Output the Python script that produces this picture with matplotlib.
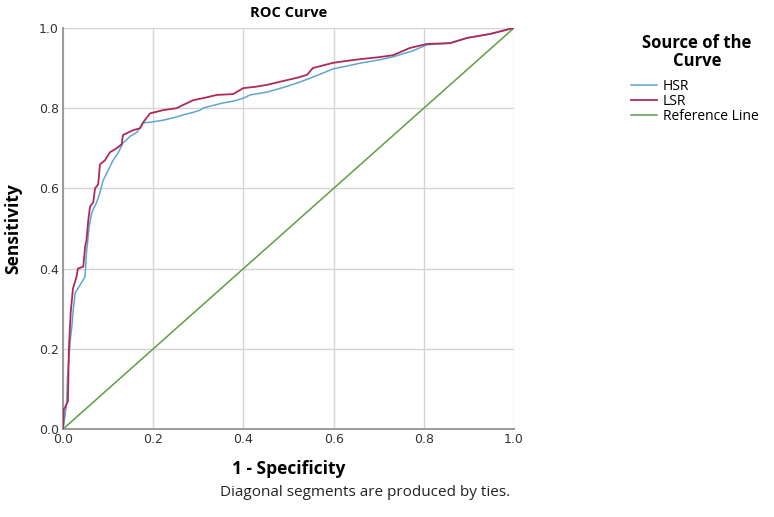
import matplotlib.pyplot as plt

# ROC points (1 - specificity, sensitivity)
hsr_fpr = [0.0, 0.004, 0.008, 0.010, 0.016, 0.020, 0.022, 0.027, 0.030, 0.041, 0.049,
           0.052, 0.055, 0.058, 0.064, 0.070, 0.075, 0.082, 0.089, 0.100, 0.111,
           0.122, 0.133, 0.149, 0.164, 0.177, 0.200, 0.222, 0.245, 0.266, 0.290,
           0.304, 0.310, 0.330, 0.355, 0.380, 0.400, 0.415, 0.452, 0.490, 0.525,
           0.560, 0.599, 0.630, 0.658, 0.700, 0.732, 0.776, 0.807, 0.858, 0.896,
           0.947, 1.0]
hsr_tpr = [0.0, 0.030, 0.065, 0.130, 0.220, 0.260, 0.290, 0.340, 0.345, 0.365, 0.380,
           0.440, 0.470, 0.505, 0.540, 0.555, 0.566, 0.590, 0.620, 0.645, 0.670,
           0.688, 0.713, 0.730, 0.740, 0.763, 0.766, 0.770, 0.776, 0.783, 0.790,
           0.795, 0.800, 0.806, 0.813, 0.818, 0.825, 0.833, 0.840, 0.852, 0.865,
           0.880, 0.898, 0.905, 0.912, 0.920, 0.928, 0.943, 0.958, 0.962, 0.975,
           0.985, 1.0]

lsr_fpr = [0.0, 0.002, 0.005, 0.011, 0.013, 0.017, 0.022, 0.030, 0.033, 0.045, 0.049,
           0.052, 0.056, 0.060, 0.067, 0.071, 0.078, 0.082, 0.093, 0.104, 0.119,
           0.130, 0.133, 0.155, 0.171, 0.178, 0.193, 0.222, 0.252, 0.270, 0.289,
           0.315, 0.341, 0.377, 0.400, 0.425, 0.452, 0.497, 0.520, 0.541, 0.554,
           0.599, 0.630, 0.658, 0.700, 0.732, 0.769, 0.807, 0.858, 0.896, 0.947, 1.0]
lsr_tpr = [0.0, 0.050, 0.055, 0.070, 0.200, 0.290, 0.350, 0.380, 0.400, 0.405, 0.455,
           0.470, 0.520, 0.555, 0.565, 0.600, 0.610, 0.660, 0.670, 0.690, 0.700,
           0.710, 0.733, 0.745, 0.750, 0.765, 0.787, 0.795, 0.800, 0.810, 0.820,
           0.826, 0.833, 0.835, 0.850, 0.853, 0.858, 0.870, 0.876, 0.883, 0.900,
           0.913, 0.918, 0.922, 0.927, 0.932, 0.950, 0.960, 0.962, 0.975, 0.985, 1.0]

ref = [0.0, 1.0]
ticks = [0.0, 0.2, 0.4, 0.6, 0.8, 1.0]

fig = plt.figure(figsize=(7.74, 5.17), dpi=100)
ax = fig.add_axes([0.0814, 0.170, 0.5827, 0.776])

ax.plot(hsr_fpr, hsr_tpr, color="#5ea6d0", lw=1.1, label="HSR", zorder=3)
ax.plot(lsr_fpr, lsr_tpr, color="#b0285a", lw=1.3, label="LSR", zorder=4)
ax.plot(ref, ref, color="#5e9e44", lw=1.1, label="Reference Line", zorder=2)

ax.set_xlim(0, 1)
ax.set_ylim(0, 1)
ax.set_xticks(ticks)
ax.set_yticks(ticks)
ax.set_xticklabels([f"{t:.1f}" for t in ticks])
ax.set_yticklabels([f"{t:.1f}" for t in ticks])
ax.tick_params(length=0, labelsize=9, colors="#333333", pad=3)
ax.grid(True, color="#d4d4d4", lw=1.0)
ax.set_axisbelow(True)
for side in ["top", "right"]:
    ax.spines[side].set_visible(False)
for side in ["left", "bottom"]:
    ax.spines[side].set_color("#9a9a9a")
    ax.spines[side].set_linewidth(1.4)

ax.set_title("ROC Curve", family="Open Sans", fontweight="bold", fontsize=10.5, pad=8)
ax.set_xlabel("1 - Specificity", family="Open Sans", fontweight="bold", fontsize=12.5, labelpad=10)
ax.set_ylabel("Sensitivity", family="Open Sans", fontweight="bold", fontsize=12.5, labelpad=12)

fig.text(0.472, 0.048, "Diagonal segments are produced by ties.", family="Open Sans",
         fontsize=11, ha="center", va="center", color="#222222")

# legend title drawn on its own so the gap to the entries matches
fig.text(697 / 774, 1 - 52 / 517, "Source of the\nCurve", family="Open Sans",
         fontweight="bold", fontsize=12, ha="center", va="center",
         multialignment="center", linespacing=0.95)
fig.legend(loc="upper left", bbox_to_anchor=(0.799, 0.871), frameon=False,
           handlelength=1.9, handletextpad=0.4, labelspacing=0.0,
           prop={"family": "Open Sans", "size": 10})

fig.savefig("out.png", dpi=100)
